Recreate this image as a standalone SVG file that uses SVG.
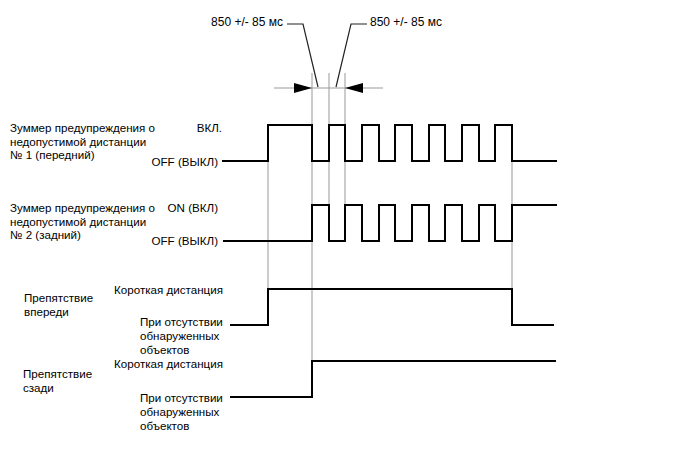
<svg xmlns="http://www.w3.org/2000/svg" width="688" height="463" viewBox="0 0 688 463">
<style>
text{font-family:"Liberation Sans",Arial,sans-serif;font-size:11.6px;fill:#000}
.t{font-size:12px}
.e{text-anchor:end}
.sig{fill:none;stroke:#000;stroke-width:2;stroke-linejoin:miter}
.guide{fill:none;stroke:#999;stroke-width:1}
.lead{fill:none;stroke:#222;stroke-width:1.2}
</style>
<defs>
<marker id="ah" viewBox="0 0 18 10" refX="18" refY="5" markerWidth="18" markerHeight="10" markerUnits="userSpaceOnUse" orient="auto">
<path d="M0,0 L18,5 L0,10 Z" fill="#000"/>
</marker>
</defs>
<rect width="688" height="463" fill="#fff"/>

<g id="connectors">
<line class="guide" x1="268" y1="125" x2="268" y2="289"/>
<line class="guide" x1="312" y1="73" x2="312" y2="361"/>
<line class="guide" x1="329" y1="73" x2="329" y2="241"/>
<line class="guide" x1="345" y1="73" x2="345" y2="241"/>
<line class="guide" x1="512" y1="125" x2="512" y2="289"/>
<line class="guide" x1="274" y1="88" x2="383" y2="88"/>
<line x1="294" y1="88" x2="312" y2="88" stroke="none" marker-end="url(#ah)"/>
<line x1="363" y1="88" x2="345" y2="88" stroke="none" marker-end="url(#ah)"/>
<polyline class="lead" points="287,24 303,24 318,87"/>
<polyline class="lead" points="367,24 351,24 336,87"/>
</g>

<g id="timing-labels">
<text class="t e" x="283" y="26">850 +/- 85 мс</text>
<text class="t" x="370" y="26">850 +/- 85 мс</text>
</g>

<g id="buzzer1">
<text x="10" y="132">Зуммер предупреждения о</text>
<text x="10" y="145.7">недопустимой дистанции</text>
<text x="10" y="159.4">№ 1 (передний)</text>
<text class="e" x="222" y="132">ВКЛ.</text>
<text class="e" x="218" y="166">OFF (ВЫКЛ)</text>
<polyline class="sig" points="222,161 268,161 268,125 312,125 312,161 329,161 329,125 345,125 345,161 362,161 362,125 379,125 379,161 395,161 395,125 412,125 412,161 429,161 429,125 445,125 445,161 462,161 462,125 479,125 479,161 495,161 495,125 512,125 512,161 557,161"/>
</g>

<g id="buzzer2">
<text x="10" y="212">Зуммер предупреждения о</text>
<text x="10" y="225.5">недопустимой дистанции</text>
<text x="10" y="239">№ 2 (задний)</text>
<text class="e" x="218" y="212">ON (ВКЛ)</text>
<text class="e" x="218" y="245">OFF (ВЫКЛ)</text>
<polyline class="sig" points="223,241 312,241 312,205 329,205 329,241 345,241 345,205 362,205 362,241 379,241 379,205 395,205 395,241 412,241 412,205 429,205 429,241 445,241 445,205 462,205 462,241 479,241 479,205 495,205 495,241 512,241 512,205 557,205"/>
</g>

<g id="obstacle-front">
<text x="24" y="302">Препятствие</text>
<text x="24" y="316">впереди</text>
<text class="e" x="223" y="294">Короткая дистанция</text>
<text x="140" y="326">При отсутствии</text>
<text x="140" y="340">обнаруженных</text>
<text x="140" y="354">объектов</text>
<polyline class="sig" points="230,325 268,325 268,289 512,289 512,325 554,325"/>
</g>

<g id="obstacle-rear">
<text x="23" y="378">Препятствие</text>
<text x="23" y="392">сзади</text>
<text class="e" x="223" y="367.5">Короткая дистанция</text>
<text x="140" y="402">При отсутствии</text>
<text x="140" y="416">обнаруженных</text>
<text x="140" y="430">объектов</text>
<polyline class="sig" points="230,397 312,397 312,361 556,361"/>
</g>
</svg>
